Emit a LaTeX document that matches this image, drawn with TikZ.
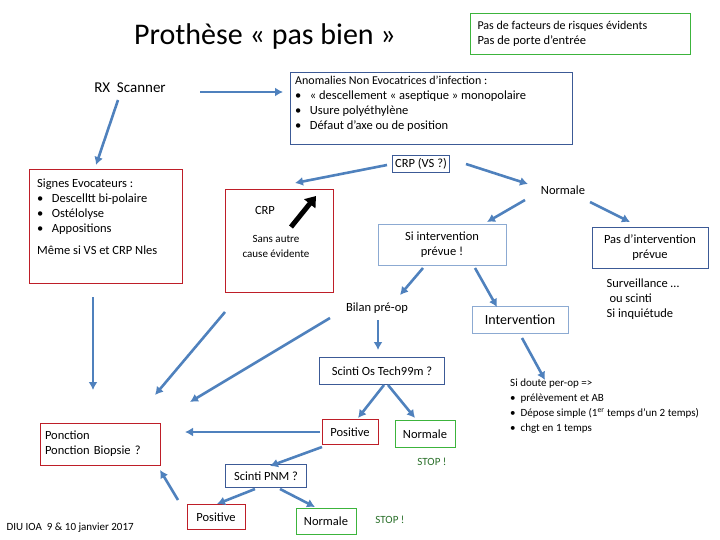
\documentclass[tikz,border=0pt]{standalone}
\usepackage{fontspec}
\setmainfont{Carlito}
\usetikzlibrary{arrows.meta}
\begin{document}
\begin{tikzpicture}[x=1pt,y=-1pt,
  bx/.style={draw=#1,line width=1pt,inner sep=3pt},
  ar/.style={draw={rgb,255:red,79;green,129;blue,189},line width=2.6pt,-{Latex[length=8pt,width=9pt]}},
  every node/.style={font=\fontsize{12.5}{15}\selectfont}]
\useasboundingbox (0,0) rectangle (720,540);
\definecolor{bb}{RGB}{60,90,150}
\definecolor{rr}{RGB}{190,30,40}
\definecolor{gg}{RGB}{60,180,60}
\definecolor{lb}{RGB}{140,170,210}
\definecolor{sg}{RGB}{40,110,40}
\node (title) at (265,37) {\fontsize{30}{34}\selectfont Prothèse « pas bien »};
\draw[gg,line width=1pt] (470,14) rectangle (690,55);
\node[anchor=west,align=left] (top) at (474,34) {\fontsize{12}{17}\selectfont Pas de facteurs de risques évidents\\Pas de porte d'entrée};
\node (rx) at (130,88) {\fontsize{15}{17}\selectfont RX\ \ Scanner};
\draw[bb,line width=1pt] (290,73) rectangle (572,145);
\node[anchor=north west,align=left,inner sep=0] (an) at (295,76) {\fontsize{12}{17}\selectfont Anomalies Non Evocatrices d'infection :\\
•\ \ \ « descellement « aseptique » monopolaire\\ •\ \ \ Usure polyéthylène\\ •\ \ \ Défaut d'axe ou de position};
\node[bx=bb,inner sep=3pt] (crpvs) at (421,164) {CRP (VS ?)};
\draw[rr,line width=1pt] (29,170) rectangle (182,283);
\node[anchor=north west,align=left,inner sep=0] (sig) at (37,179) {\fontsize{12.5}{17}\selectfont Signes Evocateurs :\\•\ \ \ Descelltt bi-polaire\\•\ \ \ Ostélolyse\\•\ \ \ Appositions\\[7pt]Même si VS et CRP Nles};
\draw[rr,line width=1pt] (225,190) rectangle (333,292);
\node (crp) at (265,210) {CRP};
\draw[black,line width=5pt,-{Triangle[length=10pt,width=14pt]}] (291,227) -- (316,196);
\node[align=center,font=\fontsize{11}{15}\selectfont] (sac) at (276,246) {Sans autre\\cause évidente};
\node (norm) at (563,190) {Normale};
\node[draw=lb,line width=1pt,minimum width=128pt,minimum height=40pt,align=center] (si) at (442,245) {Si intervention\\prévue !};
\node[bx=bb,minimum width=116pt,minimum height=41pt,align=center] (pas) at (650,248) {Pas d'intervention\\prévue};
\node[align=left] (surv) at (643,299) {Surveillance …\\ \ ou scinti\\Si inquiétude};
\node (bil) at (377,308) {Bilan pré-op};
\node[draw=lb,line width=1pt,minimum width=96pt,minimum height=27pt] (int) at (520,320) {\fontsize{14}{16}\selectfont Intervention};
\node[bx=bb,minimum width=125pt,minimum height=27pt] (sos) at (382,371) {Scinti Os Tech99m ?};
\node[anchor=north west,align=left,inner sep=0,font=\fontsize{11}{15}\selectfont] (doute) at (510,379) {Si doute per-op =>\\•\ \ prélèvement et AB\\•\ \ Dépose simple (1\textsuperscript{er} temps d'un 2 temps)\\•\ \ chgt en 1 temps};
\node[draw=rr,line width=1pt,minimum width=120pt,minimum height=42pt,align=left,text width=110pt] (pon) at (100,444) {Ponction\\Ponction Biopsie ?};
\node[bx=rr,minimum width=56pt,minimum height=25pt] (pos) at (350,432) {Positive};
\node[bx=gg,minimum width=60pt,minimum height=27pt] (nor) at (425,434) {Normale};
\node[sg,font=\fontsize{11}{12}\selectfont] (stop1) at (432,462) {STOP !};
\node[bx=bb,minimum width=81pt,minimum height=23pt] (pnm) at (266,476) {Scinti PNM ?};
\node[bx=rr,minimum width=58pt,minimum height=25pt] (pos2) at (216,517) {Positive};
\node[bx=gg,minimum width=60pt,minimum height=26pt] (nor2) at (326,521) {Normale};
\node[sg,font=\fontsize{11}{12}\selectfont] (stop2) at (390,520) {STOP !};
\node[anchor=west,font=\fontsize{11}{12}\selectfont] (diu) at (3,528) {DIU IOA\ \ 9 \& 10 janvier 2017};
\draw[ar] (118,100) -- (96,165);
\draw[ar] (200,92) -- (283,92);
\draw[ar] (387,165) -- (295,183);
\draw[ar] (466,164) -- (528,184);
\draw[ar] (525,200) -- (487,222);
\draw[ar] (590,202) -- (630,222);
\draw[ar] (423,268) -- (400,295);
\draw[ar] (475,268) -- (497,307);
\draw[ar] (93,297) -- (93,390);
\draw[ar] (225,312) -- (155,395);
\draw[ar] (330,318) -- (190,402);
\draw[ar] (378,320) -- (378,350);
\draw[ar] (522,338) -- (545,380);
\draw[ar] (384,385) -- (358,418);
\draw[ar] (388,385) -- (415,418);
\draw[ar] (320,432) -- (185,432);
\draw[ar] (322,447) -- (270,466);
\draw[ar] (255,489) -- (217,504);
\draw[ar] (280,489) -- (315,507);
\draw[ar] (178,500) -- (160,470);
\end{tikzpicture}
\end{document}
